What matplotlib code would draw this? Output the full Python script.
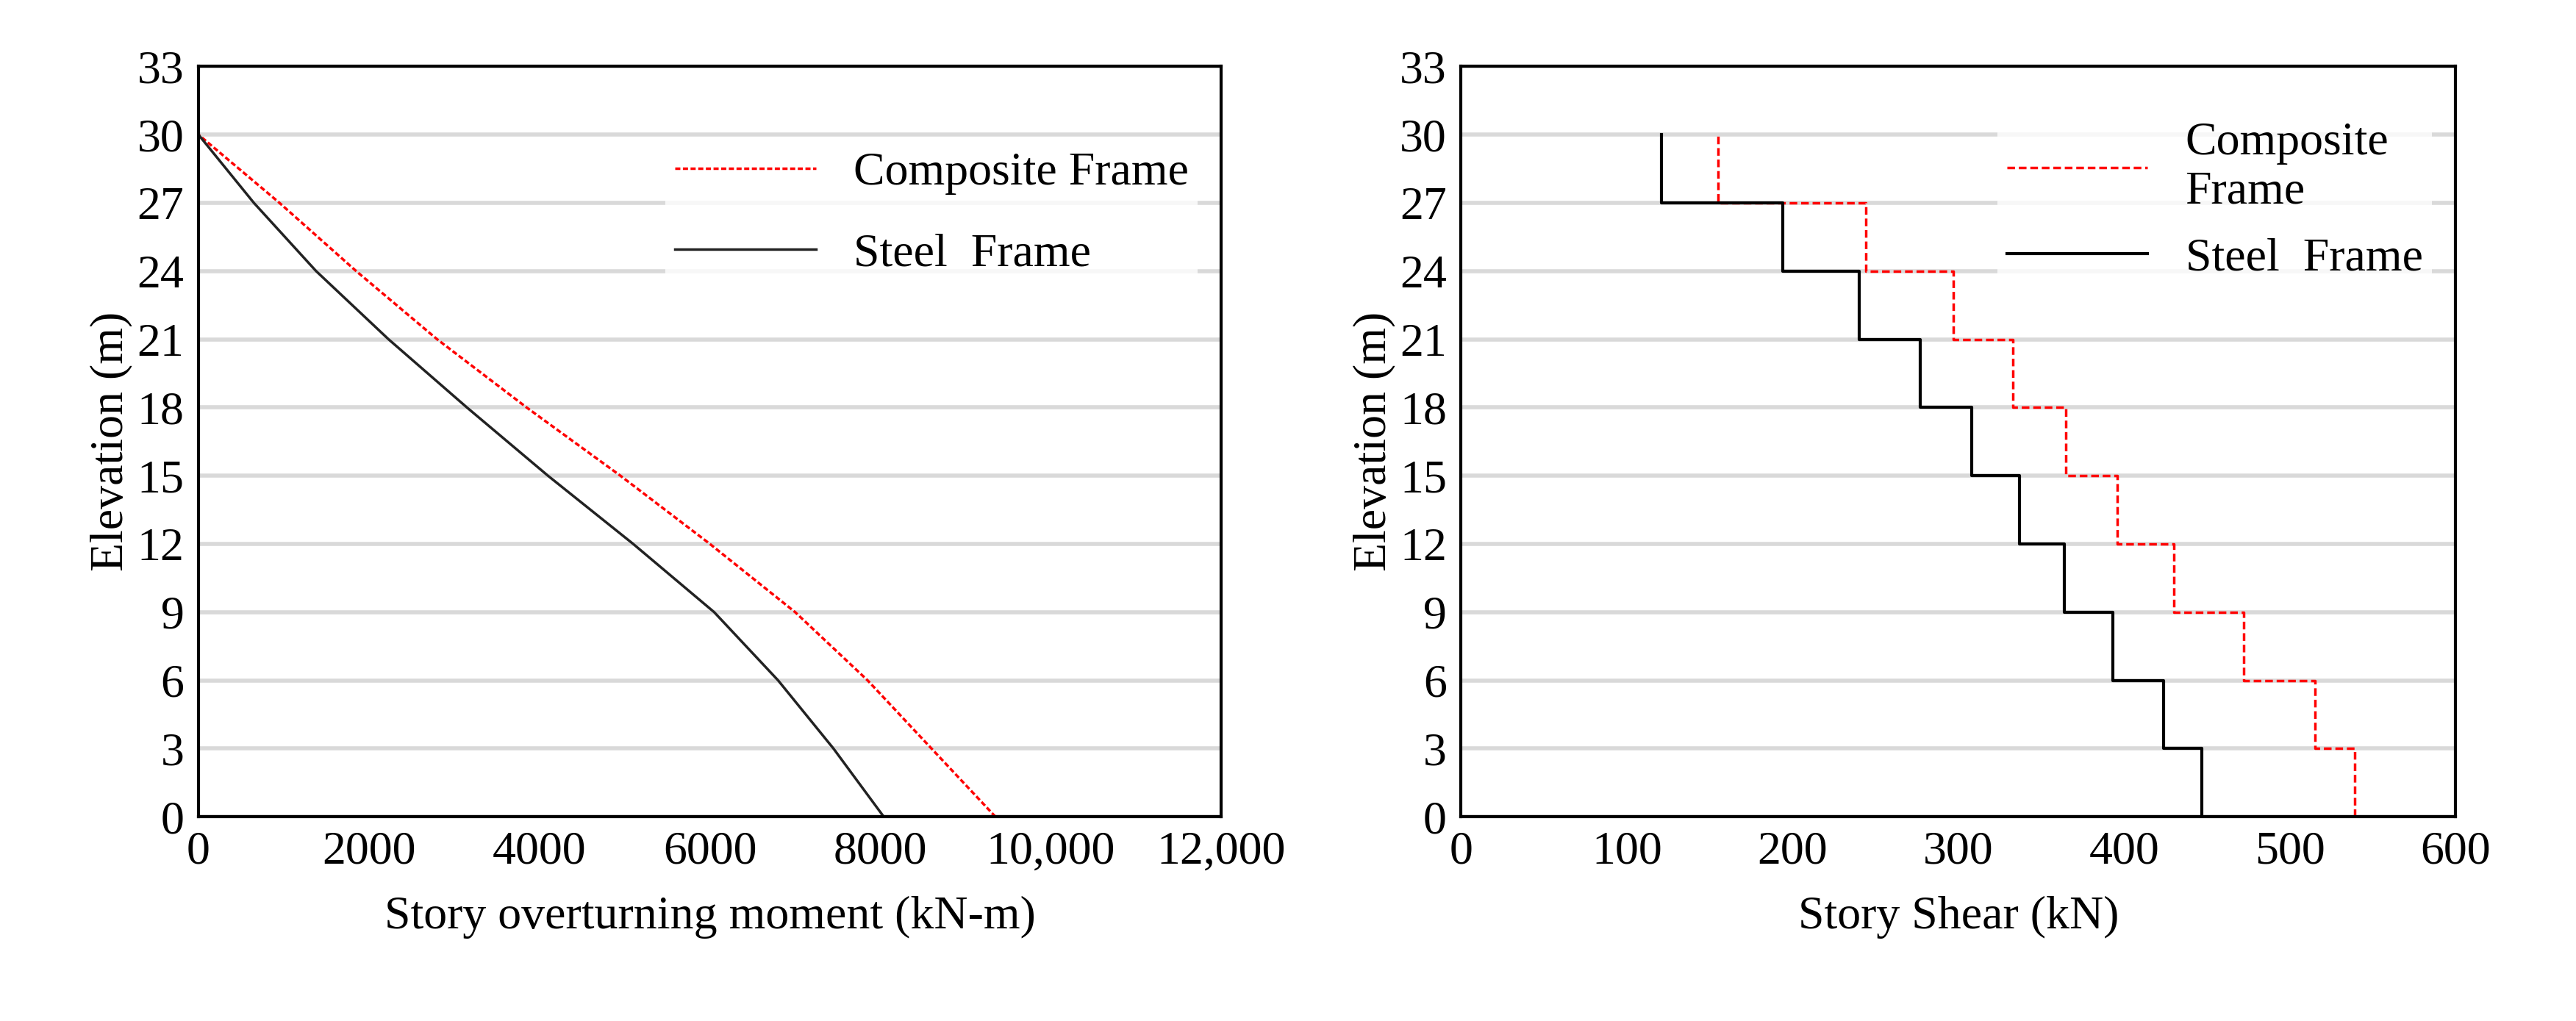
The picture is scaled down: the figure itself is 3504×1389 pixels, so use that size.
import numpy as np
import matplotlib
matplotlib.use("Agg")
import matplotlib.pyplot as plt

plt.rcParams['font.family'] = ['Liberation Serif', 'DejaVu Serif']

elev = [0, 3, 6, 9, 12, 15, 18, 21, 24, 27, 30]
steel_moment = [8040, 7450, 6800, 6050, 5100, 4100, 3150, 2230, 1380, 650, 0]
comp_moment = [9350, 8600, 7850, 7000, 6000, 4950, 3850, 2800, 1850, 950, 0]

story_levels = [0, 3, 6, 9, 12, 15, 18, 21, 24, 27, 30]
steel_shear = [447, 424, 393, 364, 337, 308, 277, 240, 194, 121]
comp_shear = [539, 515, 472, 430, 396, 365, 333, 297, 244, 155]

xt_left = [0, 2000, 4000, 6000, 8000, 10000, 12000]
xt_left_lbl = ['0', '2000', '4000', '6000', '8000', '10,000', '12,000']
yt = list(range(0, 34, 3))

fig = plt.figure(figsize=(35.05, 13.89), dpi=100)
ax1 = fig.add_axes([0.077, 0.200, 0.397, 0.735])
ax2 = fig.add_axes([0.567, 0.200, 0.386, 0.735])

FS = 46

def style(ax):
    ax.set_ylim(0, 33)
    ax.set_yticks(yt)
    ax.yaxis.grid(True, color='#d9d9d9', lw=4)
    ax.set_axisbelow(True)
    for s in ax.spines.values():
        s.set_linewidth(3)
    ax.tick_params(length=0, labelsize=FS, pad=14)
    ax.set_ylabel('Elevation (m)', fontsize=FS)

ax1.plot(comp_moment, elev, color='red', ls=(0, (2, 1)), lw=2.5, label='Composite Frame')
ax1.plot(steel_moment, elev, color='#222222', lw=2.5, label='Steel  Frame')
ax1.set_xlim(0, 12000)
ax1.set_xticks(xt_left)
ax1.set_xticklabels(xt_left_lbl)
style(ax1)
ax1.set_xlabel('Story overturning moment (kN-m)', fontsize=FS, labelpad=22)
ax1.legend(loc='upper right', bbox_to_anchor=(1.0, 0.93), fontsize=FS, frameon=True,
           edgecolor='none', fancybox=False, handlelength=3, labelspacing=0.8, borderpad=0.2)

def step_xy(vals, levels):
    ys = np.repeat(levels, 2)[1:-1]
    xs = np.repeat(vals, 2)
    return xs, ys

xs, ys = step_xy(comp_shear, story_levels)
ax2.plot(xs, ys, color='red', ls=(0, (3, 1.5)), lw=2.5, label='Composite\nFrame')
xs, ys = step_xy(steel_shear, story_levels)
ax2.plot(xs, ys, color='black', lw=3, label='Steel  Frame')
ax2.set_xlim(0, 600)
ax2.set_xticks(range(0, 601, 100))
style(ax2)
ax2.set_xlabel('Story Shear (kN)', fontsize=FS, labelpad=22)
ax2.legend(loc='upper right', bbox_to_anchor=(1.0, 0.97), fontsize=FS, frameon=True,
           edgecolor='none', fancybox=False, handlelength=3, labelspacing=0.5, borderpad=0.2)

fig.savefig('out.png', dpi=100)
